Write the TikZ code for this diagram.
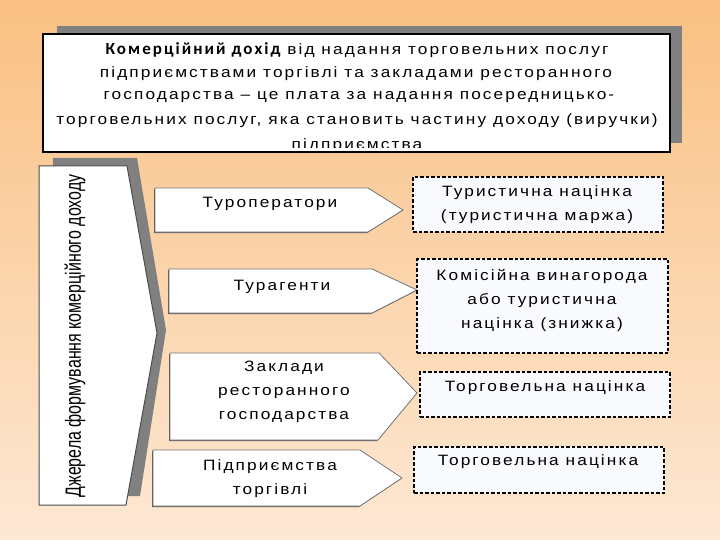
\documentclass[tikz,border=0pt]{standalone}
\usepackage{fontspec}
\usepackage{graphicx}
\setmainfont{Liberation Sans}
\newfontfamily\spaced[LetterSpace=14,FakeStretch=1.15]{Liberation Sans}
\newfontfamily\boldcal[LetterSpace=12]{Carlito}
\definecolor{bgtop}{RGB}{249,192,130}
\definecolor{bgbot}{RGB}{253,232,212}
\definecolor{shadowgray}{RGB}{128,128,128}
\definecolor{boxfill}{RGB}{248,250,253}
\tikzset{
  pent/.style={fill=white, draw=black!55, line width=0.8pt},
  pentshadow/.style={fill=black!65},
  dbox/.style={draw=black, dash pattern=on 3.5pt off 2pt, line width=1.1pt, fill=boxfill, inner sep=0pt},
  toptxt/.style={inner sep=0pt, font=\spaced\fontsize{15}{16}\selectfont},
  boxtxt/.style={inner sep=0pt, align=center, font=\spaced\fontsize{15}{24}\selectfont},
}
\begin{document}
\begin{tikzpicture}[x=1pt,y=-1pt]
\useasboundingbox (0,0) rectangle (720,540);
\shade[top color=bgtop, bottom color=bgbot] (0,0) rectangle (720,540);
% top box
\fill[shadowgray] (57,26) rectangle (682,143);
\fill[white] (43,34) rectangle (670,152);
\begin{scope}
\clip (43,34) rectangle (670,148);
\node[toptxt] (t1) at (357,50) {{\boldcal\bfseries\fontsize{17}{17}\selectfont Комерційний дохід} від надання торговельних послуг};
\node[toptxt] (t2) at (356,74) {підприємствами торгівлі та закладами ресторанного};
\node[toptxt] (t3) at (359,97) {господарства – це плата за надання посередницько-};
\node[toptxt] (t4) at (357,121) {торговельних послуг, яка становить частину доходу (виручки)};
\node[toptxt] (t5) at (357,145.5) {підприємства};
\end{scope}
\draw[black, line width=1.2pt] (43,34) rectangle (670,152);
% big chevron
\fill[shadowgray] (53,158) -- (137,158) -- (166,330) -- (140,496) -- (53,496) -- cycle;
\draw[fill=white, draw=black!70, line width=1pt] (39,166) -- (127,166) -- (157,333) -- (126,505) -- (39,505) -- cycle;
\node[inner sep=0pt, rotate=90] (src) at (75,336) {\resizebox{323pt}{\height}{\fontsize{22}{22}\selectfont Джерела формування комерційного доходу}};
% pentagons
\fill[pentshadow] (154,189) -- (367,189) -- (402,211) -- (367,233) -- (154,233) -- cycle;
\draw[pent] (155,188) -- (368,188) -- (403,210) -- (368,232) -- (155,232) -- cycle;
\fill[pentshadow] (168,270) -- (371,270) -- (416,291) -- (371,314) -- (168,314) -- cycle;
\draw[pent] (169,269) -- (372,269) -- (417,290) -- (372,313) -- (169,313) -- cycle;
\fill[pentshadow] (169,354) -- (378,354) -- (416,394) -- (377,441) -- (169,441) -- cycle;
\draw[pent] (170,353) -- (379,353) -- (417,393) -- (378,440) -- (170,440) -- cycle;
\fill[pentshadow] (152,451) -- (359,451) -- (401,479) -- (359,507) -- (152,507) -- cycle;
\draw[pent] (153,450) -- (360,450) -- (402,478) -- (360,506) -- (153,506) -- cycle;
\node[boxtxt] (p1) at (270,204) {Туроператори};
\node[boxtxt] (p2) at (282,287) {Турагенти};
\node[boxtxt] (p3) at (284,392) {Заклади\\ресторанного\\господарства};
\node[boxtxt] (p4) at (270,479) {Підприємства\\торгівлі};
% dashed boxes
\node[dbox, minimum width=250pt, minimum height=55pt] (d1) at (538,204.5) {};
\node[dbox, minimum width=251pt, minimum height=94pt] (d2) at (542.5,306) {};
\node[dbox, minimum width=250pt, minimum height=45pt] (d3) at (545,394.5) {};
\node[dbox, minimum width=250pt, minimum height=46pt] (d4) at (539,470) {};
\node[boxtxt] (e1) at (537,205) {Туристична націнка\\(туристична маржа)};
\node[boxtxt] (e2) at (542,300) {Комісійна винагорода\\або туристична\\націнка (знижка)};
\node[boxtxt] (e3) at (545,388) {Торговельна націнка};
\node[boxtxt] (e4) at (538,462) {Торговельна націнка};
\end{tikzpicture}
\end{document}
